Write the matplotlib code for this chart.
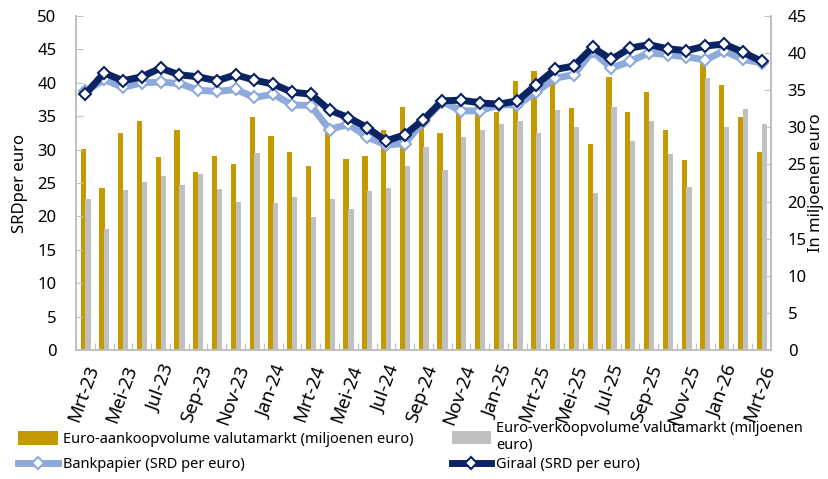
import matplotlib
matplotlib.use("Agg")
import matplotlib.pyplot as plt
import numpy as np

months = ["Mrt", "Apr", "Mei", "Jun", "Jul", "Aug", "Sep", "Okt", "Nov", "Dec", "Jan", "Feb"]
labels = []
for i in range(37):
    y = 23 + (i + 2) // 12
    labels.append(f"{months[i % 12]}-{y}")

# volumes in miljoenen euro (right axis)
aankoop = [27.1, 21.8, 29.3, 30.9, 26.0, 29.6, 24.0, 26.1, 25.1, 31.4, 28.8, 26.7, 24.8,
           29.7, 25.7, 26.1, 29.6, 32.7, 30.3, 29.2, 33.0, 33.9, 32.1, 36.2, 37.6, 36.2,
           32.6, 27.7, 36.8, 32.0, 34.8, 29.6, 25.6, 38.8, 35.7, 31.4, 26.7]
verkoop = [20.4, 16.3, 21.5, 22.7, 23.4, 22.2, 23.7, 21.7, 20.0, 26.5, 19.8, 20.6, 17.9,
           20.4, 19.0, 21.4, 21.8, 24.8, 27.4, 24.3, 28.7, 29.6, 30.5, 30.9, 29.2, 32.3,
           30.0, 21.2, 32.7, 28.2, 30.9, 26.4, 21.9, 36.6, 30.0, 32.5, 30.4]

# koersen in SRD per euro (left axis)
giraal = [38.3, 41.5, 40.3, 40.9, 42.2, 41.2, 40.9, 40.3, 41.2, 40.4, 39.8, 38.6, 38.3,
          35.9, 34.8, 33.3, 31.3, 32.2, 34.5, 37.3, 37.4, 37.0, 36.8, 37.3, 39.7, 42.0,
          42.5, 45.3, 43.5, 45.2, 45.7, 45.1, 44.8, 45.5, 45.8, 44.6, 43.2]
bankpapier = [38.7, 40.5, 39.3, 40.0, 40.1, 39.9, 38.9, 38.7, 39.0, 37.8, 38.3, 36.7, 36.6,
              33.0, 33.8, 31.9, 30.7, 30.9, 34.2, 37.2, 35.8, 35.8, 36.7, 36.7, 38.6, 40.7,
              41.2, 44.7, 42.2, 43.2, 44.5, 44.2, 43.9, 43.4, 44.8, 43.5, 43.0]

gold = "#C49A00"
grey = "#C0C0C0"
light = "#8EAADB"
navy = "#0A2463"
spine = "#BFBFBF"

plt.rcParams["font.family"] = ["Noto Sans", "DejaVu Sans"]
plt.rcParams["font.size"] = 11

x = np.arange(len(labels))

fig = plt.figure(figsize=(8.29, 4.79), dpi=100)
ax = fig.add_axes([0.0917, 0.2693, 0.8383, 0.6973])
ax2 = ax.twinx()

b1 = ax2.bar(x - 0.12, aankoop, width=0.28, color=gold)
b2 = ax2.bar(x + 0.14, verkoop, width=0.28, color=grey)

l1, = ax.plot(x, bankpapier, color=light, lw=5, marker="D", ms=6.5, mfc="white", mec=light, mew=1.5)
l2, = ax.plot(x, giraal, color=navy, lw=5, marker="D", ms=6.5, mfc="white", mec=navy, mew=1.5)

ax.set_zorder(ax2.get_zorder() + 1)
ax.patch.set_visible(False)

ax.set_xlim(-0.5, len(labels) - 0.5)
ax.set_ylim(0, 50)
ax2.set_ylim(0, 45)
ax.set_yticks(np.arange(0, 51, 5))
ax2.set_yticks(np.arange(0, 46, 5))

for a in (ax, ax2):
    a.spines["top"].set_visible(False)
    for s in ("left", "right", "bottom"):
        a.spines[s].set_color(spine)
        a.spines[s].set_linewidth(1.2)

ax.tick_params(axis="y", direction="in", length=5, color=spine, labelsize=12, pad=14)
ax2.tick_params(axis="y", direction="in", length=5, color=spine, labelsize=12, pad=12)

ax.set_xticks(np.arange(-0.5, len(labels), 1))
ax.set_xticklabels([])
ax.tick_params(axis="x", which="major", direction="in", length=5, color=spine)
ax.set_xticks(x[::2], minor=True)
ax.set_xticklabels(labels[::2], minor=True, rotation=70, ha="right", va="top",
                   rotation_mode="anchor", fontsize=13.5)
ax.tick_params(axis="x", which="minor", length=0, pad=9)

ax.set_ylabel("SRDper euro", fontsize=12, labelpad=7)
ax2.set_ylabel("In miljoenen euro", fontsize=12, labelpad=1)

# legend items placed one by one so that the rows line up
items = [
    (b1, "Euro-aankoopvolume valutamarkt (miljoenen euro)", 0.022, 0.083),
    (b2, "Euro-verkoopvolume valutamarkt (miljoenen\neuro)", 0.545, 0.087),
    (l1, "Bankpapier (SRD per euro)", 0.022, 0.030),
    (l2, "Giraal (SRD per euro)", 0.545, 0.030),
]
for h, lab, lx, ly in items:
    fig.legend(handles=[h], labels=[lab], loc="center left", bbox_to_anchor=(lx, ly),
               frameon=False, fontsize=10.5, handlelength=2.7, handleheight=1.0,
               handletextpad=0.35, borderpad=0, borderaxespad=0, labelspacing=0.1)

fig.savefig("out.png", dpi=100)
